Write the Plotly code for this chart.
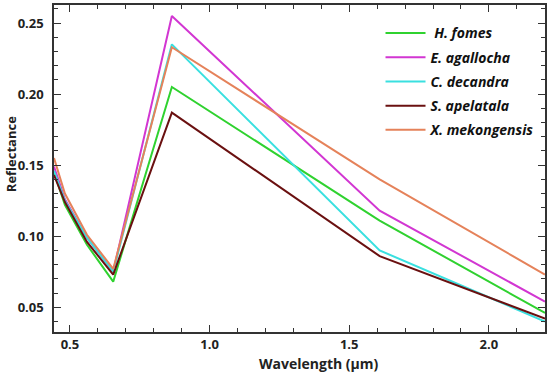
import plotly.graph_objects as go

wavelength = [0.443, 0.482, 0.561, 0.655, 0.865, 1.609, 2.201]

species = ["\u00a0H. fomes", "E. agallocha", "C. decandra", "S. apelatala", "X. mekongensis"]
h_fomes = [0.145, 0.122, 0.094, 0.068, 0.205, 0.111, 0.046]
e_agallocha = [0.149, 0.126, 0.099, 0.075, 0.255, 0.118, 0.054]
c_decandra = [0.146, 0.125, 0.099, 0.075, 0.235, 0.090, 0.040]
s_apelatala = [0.143, 0.124, 0.096, 0.073, 0.187, 0.086, 0.042]
x_mekongensis = [0.155, 0.130, 0.101, 0.077, 0.233, 0.140, 0.073]
series = [h_fomes, e_agallocha, c_decandra, s_apelatala, x_mekongensis]
colors = ["#2fd22f", "#d236d2", "#3ae0e0", "#6a1010", "#e5825a"]

x_ticks = [0.5, 1.0, 1.5, 2.0]
y_ticks = [0.05, 0.10, 0.15, 0.20, 0.25]

fig = go.Figure()
for i, (name, vals, col) in enumerate(zip(species, series, colors)):
    fig.add_trace(go.Scatter(
        x=wavelength, y=vals, mode="lines", name=name,
        line=dict(color=col, width=2), legendgroup=str(i)))

axis_common = dict(
    showgrid=False, zeroline=False, showline=True, linecolor="#333333", linewidth=1.5,
    mirror="ticks", ticks="inside", ticklen=7, tickwidth=1.2, tickcolor="#333333",
    tickfont=dict(family="Open Sans", size=13, color="#222222", weight="bold"),
)

fig.update_xaxes(
    range=[0.443, 2.201], tickvals=x_ticks, ticktext=[f"{v:.1f}" for v in x_ticks],
    minor=dict(dtick=0.1, ticks="inside", ticklen=4, tickcolor="#333333", tickwidth=1),
    **axis_common)
fig.update_yaxes(
    range=[0.0326, 0.2627], tickvals=y_ticks, ticktext=[f"{v:.2f}" for v in y_ticks],
    minor=dict(dtick=0.01, ticks="inside", ticklen=4, tickcolor="#333333", tickwidth=1),
    ticklabelstandoff=6,
    **axis_common)

fig.update_layout(
    width=550, height=375,
    margin=dict(l=54, r=3, t=5, b=43),
    paper_bgcolor="white", plot_bgcolor="white",
    showlegend=True,
    legend=dict(x=0.665, y=0.962, xanchor="left", yanchor="top", bgcolor="rgba(0,0,0,0)",
                font=dict(family="Open Sans", size=14, color="#111111", weight="bold", style="italic"),
                tracegroupgap=3, itemwidth=40),
)
fig.add_annotation(text="Wavelength (µm)", x=(320 - 54) / (547 - 54), y=-(363 - 332) / (332 - 5),
                   xref="paper", yref="paper", showarrow=False, xanchor="center", yanchor="middle",
                   font=dict(family="Open Sans", size=14, color="#222222", weight="bold"))
fig.add_annotation(text="Reflectance", x=-(54 - 11) / (547 - 54), y=(332 - 154) / (332 - 5),
                   xref="paper", yref="paper", showarrow=False, xanchor="center", yanchor="middle",
                   textangle=-90,
                   font=dict(family="Open Sans", size=13, color="#222222", weight="bold"))

fig.write_html("out.html", config={"displayModeBar": False},
               post_script="document.body.style.margin='0';")
